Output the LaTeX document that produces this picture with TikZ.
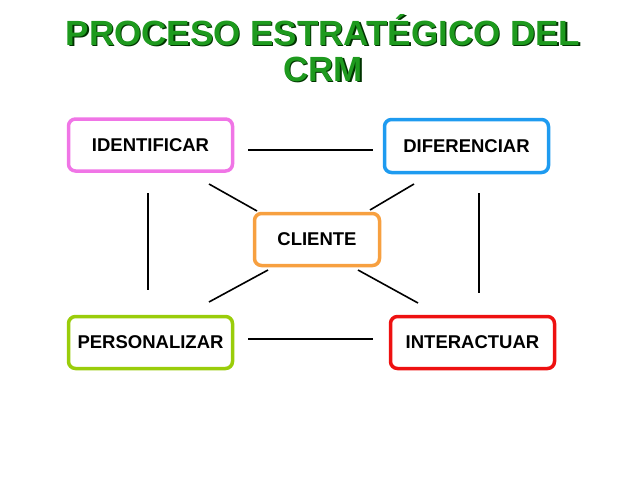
\documentclass[tikz,border=0pt]{standalone}
\usepackage{fontspec}
\setmainfont{Liberation Sans}
\definecolor{tgreen}{HTML}{1E9A1E}
\definecolor{cpink}{HTML}{F075E6}
\definecolor{cblue}{HTML}{1E9BF0}
\definecolor{corange}{HTML}{F7A040}
\definecolor{cyg}{HTML}{9ACD0A}
\definecolor{cred}{HTML}{EE1111}
\begin{document}
\begin{tikzpicture}[x=1pt,y=-1pt,
  box/.style={draw=#1,line width=3.5pt,rounded corners=7pt,font=\bfseries\fontsize{18.5}{22}\selectfont,inner sep=0pt},
  link/.style={line width=1.6pt,black}]
\useasboundingbox (0,0) rectangle (638,479);
\node[font=\bfseries\fontsize{35}{36}\selectfont,text=black!80!green,align=center] at (324.5,49.5) {PROCESO ESTRATÉGICO DEL\\CRM};
\node[font=\bfseries\fontsize{35}{36}\selectfont,text=tgreen,align=center] (title) at (323,48) {PROCESO ESTRATÉGICO DEL\\CRM};
\node[box=cpink,minimum width=164pt,minimum height=52pt] (id) at (150.5,145) {IDENTIFICAR};
\node[box=cblue,minimum width=164pt,minimum height=53pt] (di) at (466.5,146) {DIFERENCIAR};
\node[box=corange,minimum width=125pt,minimum height=52pt] (cl) at (317,239.5) {CLIENTE};
\node[box=cyg,minimum width=164pt,minimum height=52pt] (pe) at (150.5,342.5) {PERSONALIZAR};
\node[box=cred,minimum width=164pt,minimum height=52pt] (in) at (472.5,342.5) {INTERACTUAR};
\coordinate (a1) at (248,150); \coordinate (a2) at (373,150);
\coordinate (b1) at (148,193); \coordinate (b2) at (148,290);
\coordinate (c1) at (479,193); \coordinate (c2) at (479,293);
\coordinate (d1) at (248,339); \coordinate (d2) at (373,339);
\coordinate (e1) at (209,184); \coordinate (e2) at (257,211);
\coordinate (f1) at (414,184); \coordinate (f2) at (370,210);
\coordinate (g1) at (209,302); \coordinate (g2) at (268,270);
\coordinate (h1) at (358,270); \coordinate (h2) at (418,303);
\foreach \p in {a,b,c,d,e,f,g,h} \draw[link] (\p1) -- (\p2);
\end{tikzpicture}
\end{document}
